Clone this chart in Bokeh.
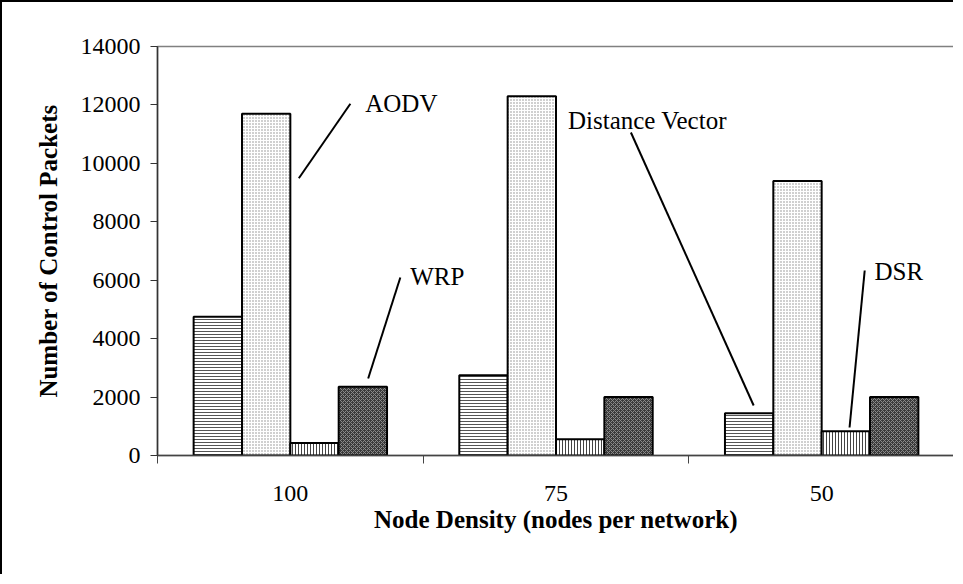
import numpy as np
from bokeh.plotting import figure
from bokeh.models import Range1d, FixedTicker, ColumnDataSource
from bokeh.core.properties import value
from bokeh.embed import file_html
from bokeh.resources import INLINE

# ---- data ----
categories = ["100", "75", "50"]
series_names = ["Distance Vector", "AODV", "DSR", "WRP"]
distance_vector = [4750, 2750, 1450]
aodv = [11700, 12300, 9400]
dsr = [430, 560, 830]
wrp = [2350, 2000, 2000]
y_ticks = [0, 2000, 4000, 6000, 8000, 10000, 12000, 14000]

# annotation leader lines (x in category units, y in packets)
ann_labels = ["AODV", "WRP", "Distance Vector", "DSR"]
ann_x0 = [0.532, 0.793, 2.244, 2.605]
ann_y0 = [9492, 2636, 1712, 958]
ann_x1 = [0.726, 0.914, 1.782, 2.662]
ann_y1 = [12039, 6093, 11057, 6333]
ann_tx = [0.782, 0.951, 1.545, 2.699]
ann_ty = [12039, 6127, 11467, 6298]

FONT = "Liberation Serif"

p = figure(width=953, height=574, output_backend="svg", toolbar_location=None,
           x_range=Range1d(0, 3), y_range=Range1d(0, 14000),
           min_border_left=155, min_border_right=1, min_border_top=44,
           min_border_bottom=121)
p.styles = {"border-top": "2px solid black", "border-left": "2px solid black"}
p.outline_line_color = "#808080"
p.outline_line_width = 1.5
p.xgrid.visible = False
p.ygrid.visible = False
p.background_fill_color = "white"
p.border_fill_color = "white"

bw = 0.182
offsets = [-1.5 * bw, -0.5 * bw, 0.5 * bw, 1.5 * bw]
base = np.arange(len(categories)) + 0.5
styles = [
    dict(fill_color="white", hatch_pattern="-", hatch_color="#555555", hatch_scale=3, hatch_weight=1),
    dict(fill_color="white", hatch_pattern=".", hatch_color="#888888", hatch_scale=3, hatch_weight=1),
    dict(fill_color="white", hatch_pattern="|", hatch_color="#444444", hatch_scale=3, hatch_weight=1),
    dict(fill_color="#3a3a3a", hatch_pattern="x", hatch_color="#8a8a8a", hatch_scale=4, hatch_weight=1),
]
for vals, off, st, name in zip([distance_vector, aodv, dsr, wrp], offsets, styles, series_names):
    src = ColumnDataSource(dict(x=base + off, top=vals))
    p.vbar(x="x", top="top", width=bw, bottom=0, source=src,
           line_color="black", line_width=2, **st)

# leader lines & labels
p.segment(x0=ann_x0, y0=ann_y0, x1=ann_x1, y1=ann_y1, line_color="black", line_width=2)
p.text(x=ann_tx, y=ann_ty, text=ann_labels, text_font=value(FONT), text_font_size="25px",
       text_baseline="middle", text_align="left", text_color="black")

# y axis
ya = p.yaxis[0]
ya.ticker = FixedTicker(ticks=y_ticks)
ya.axis_line_color = "#333333"
ya.axis_line_width = 1.5
ya.major_tick_line_color = "#333333"
ya.major_tick_out = 7
ya.major_tick_in = 0
ya.minor_tick_line_color = None
ya.major_label_text_font = FONT
ya.major_label_text_font_size = "24px"
ya.major_label_text_color = "black"
ya.major_label_standoff = 10
ya.axis_label = "Number of Control Packets"
ya.axis_label_text_font = FONT
ya.axis_label_text_font_style = "bold"
ya.axis_label_text_font_size = "25px"
ya.axis_label_text_color = "black"
ya.axis_label_standoff = 16

# x axis
xa = p.xaxis[0]
xa.ticker = FixedTicker(ticks=list(base), minor_ticks=[0, 1, 2, 3])
xa.major_label_overrides = {float(b): c for b, c in zip(base, categories)}
xa.axis_line_color = "#444444"
xa.axis_line_width = 1.5
xa.major_tick_line_color = None
xa.major_tick_out = 8
xa.minor_tick_line_color = "#444444"
xa.minor_tick_out = 8
xa.minor_tick_in = 0
xa.major_label_text_font = FONT
xa.major_label_text_font_size = "24px"
xa.major_label_text_color = "black"
xa.major_label_standoff = 22
xa.axis_label = "Node Density (nodes per network)"
xa.axis_label_text_font = FONT
xa.axis_label_text_font_style = "bold"
xa.axis_label_text_font_size = "25px"
xa.axis_label_text_color = "black"
xa.axis_label_standoff = 2

open("out.html", "w").write(file_html(p, INLINE))
